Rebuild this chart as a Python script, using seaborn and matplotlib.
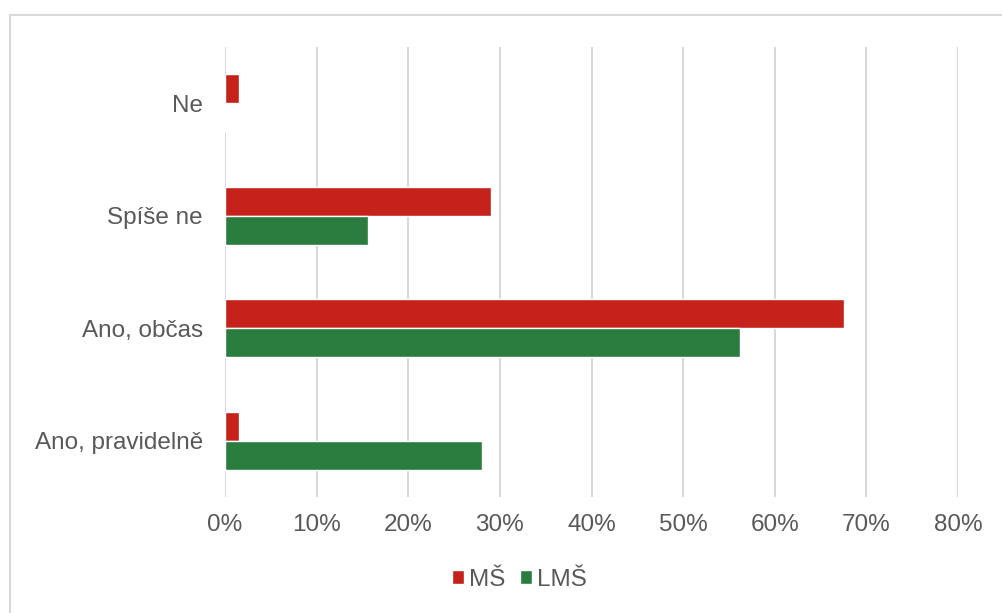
import matplotlib
matplotlib.use("Agg")
import matplotlib.pyplot as plt
from matplotlib.patches import Rectangle
from matplotlib.ticker import FuncFormatter
import pandas as pd
import seaborn as sns

# Survey answers and shares (%) per school type
categories = ["Ne", "Spíše ne", "Ano, občas", "Ano, pravidelně"]
series_names = ["MŠ", "LMŠ"]
ms_values = [1.5, 29.0, 67.6, 1.5]
lms_values = [0.0, 15.6, 56.2, 28.1]
x_ticks = [0, 10, 20, 30, 40, 50, 60, 70, 80]
colors = {"MŠ": "#C4221A", "LMŠ": "#2A7D3F"}

df = pd.DataFrame({
    "kategorie": categories * 2,
    "skupina": [series_names[0]] * len(categories) + [series_names[1]] * len(categories),
    "podil": ms_values + lms_values,
})

sns.set_theme(style="white")
plt.rcParams["font.family"] = ["Liberation Sans", "DejaVu Sans"]
text_color = "#595959"
grid_color = "#D9D9D9"

fig = plt.figure(figsize=(10.02, 6.13), dpi=100)
ax = fig.add_axes([225 / 1002, 1 - 497 / 613, 733 / 1002, 450 / 613])

sns.barplot(
    data=df, y="kategorie", x="podil", hue="skupina",
    order=categories, hue_order=series_names, palette=colors,
    orient="h", width=0.516, gap=0, dodge=True, saturation=1,
    errorbar=None, ax=ax, legend=True,
)

ax.set_xlim(0, 80)
ax.set_xticks(x_ticks)
ax.xaxis.set_major_formatter(FuncFormatter(lambda v, _: f"{v:.0f}%"))
ax.set_xlabel("")
ax.set_ylabel("")
ax.grid(axis="x", color=grid_color, linewidth=1.5)
ax.grid(axis="y", visible=False)
ax.set_axisbelow(True)
for s in ax.spines.values():
    s.set_visible(False)
ax.tick_params(axis="x", length=0, pad=12, labelsize=17.5, labelcolor=text_color)
ax.tick_params(axis="y", length=0, pad=16, labelsize=17.5, labelcolor=text_color)

handles, labels = ax.get_legend_handles_labels()
ax.get_legend().remove()
fig.legend(
    handles, labels, loc="center", bbox_to_anchor=(519 / 1002, 1 - 580 / 613),
    ncol=2, frameon=False, fontsize=17.5, labelcolor=text_color,
    handlelength=0.5, handleheight=0.5, handletextpad=0.2, columnspacing=0.6,
)

# chart area frame
fig.patches.append(Rectangle((10 / 1002, -0.1), 1.2, 1.1 - 15.5 / 613 + 0.0,
                             transform=fig.transFigure, fill=False,
                             edgecolor=grid_color, linewidth=1.5))

fig.savefig("out.png", dpi=100)
